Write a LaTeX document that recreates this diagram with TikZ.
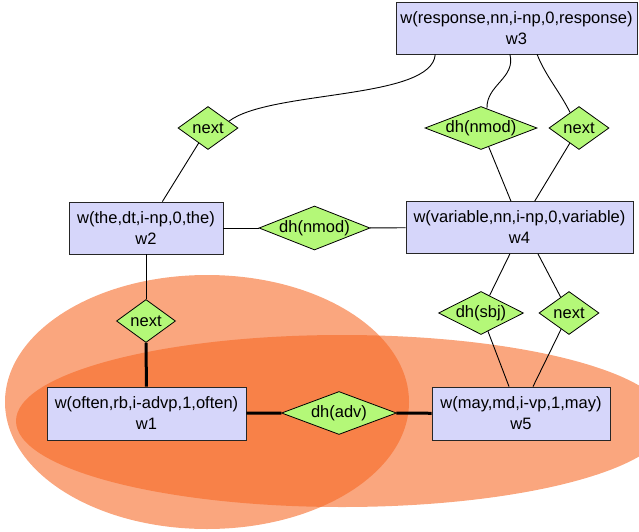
\documentclass[tikz,border=0pt]{standalone}
\usepackage{fontspec}
\setmainfont{Liberation Sans}
\usetikzlibrary{shapes.geometric}

\definecolor{wordfill}{RGB}{214,214,250}
\definecolor{relfill}{RGB}{180,248,120}
\definecolor{groupfill}{RGB}{246,103,35}

% diamond labels take no width, so the diamond size comes from the style
\newcommand{\reltext}[1]{\makebox[0pt]{#1}}

\begin{document}
\begin{tikzpicture}[x=1pt,y=-1pt,
  every node/.style={font=\fontsize{16.5}{21}\selectfont},
  word/.style={draw=black!85, line width=0.8pt, fill=wordfill, align=center,
               inner xsep=2pt, inner ysep=0pt, minimum height=52pt},
  rel/.style={diamond, draw=black, line width=0.8pt, fill=relfill,
              inner sep=0pt, minimum height=43pt},
  link/.style={line width=0.9pt},
  strong/.style={line width=3pt},
  group/.style={fill=groupfill, fill opacity=0.59}]

\path[use as bounding box, clip] (0,0) rectangle (639,532);

% groupings
\fill[group] (207,402) ellipse [x radius=202pt, y radius=127pt];
\fill[group] (342,421) ellipse [x radius=326pt, y radius=86pt];

% word nodes
\node[word, minimum width=241pt] (w3) at (516.5,28) {w(response,nn,i-np,0,response)\\w3};
\node[word, minimum width=154pt] (w2) at (146,228) {w(the,dt,i-np,0,the)\\w2};
\node[word, minimum width=227pt] (w4) at (519.5,227.5) {w(variable,nn,i-np,0,variable)\\w4};
\node[word, minimum width=199pt, minimum height=53pt] (w1) at (146.5,413.5) {w(often,rb,i-advp,1,often)\\w1};
\node[word, minimum width=178pt, minimum height=53pt] (w5) at (521,413.5) {w(may,md,i-vp,1,may)\\w5};

% relation nodes
\node[rel, minimum width=60pt]  (n1) at (208,128)   {\reltext{next}};
\node[rel, minimum width=112pt] (d2) at (481,128)   {\reltext{dh(nmod)}};
\node[rel, minimum width=60pt]  (n2) at (579,128)   {\reltext{next}};
\node[rel, minimum width=111pt, minimum height=44pt] (d3) at (314.5,228) {\reltext{dh(nmod)}};
\node[rel, minimum width=59pt]  (n3) at (146,321)   {\reltext{next}};
\node[rel, minimum width=85pt]  (d4) at (481,313)   {\reltext{dh(sbj)}};
\node[rel, minimum width=60pt]  (n4) at (569,313)   {\reltext{next}};
\node[rel, minimum width=115pt] (d5) at (339,413)   {\reltext{dh(adv)}};

% connectors
\draw[link] (w3.-162) .. controls (432,100) and (270,90) .. (n1.18);
\draw[link] (n1) -- (w2);
\draw[link] (w3.-104) .. controls (516,78) and (486,85) .. (d2.73);
\draw[link] (w3.-52) .. controls (545,75) and (560,92) .. (n2.120);
\draw[link] (d2) -- (w4.108);
\draw[link] (n2) -- (w4.60);
\draw[link] (w2) -- (d3);
\draw[link] (d3) -- (w4);
\draw[link] (w2) -- (n3);
\draw[link] (d4) -- (w4.-110);
\draw[link] (n4) -- (w4.-55);
\draw[link] (d4) -- (w5.114);
\draw[link] (n4) -- (w5.66);
\draw[strong] (n3) -- (w1);
\draw[strong] (w1) -- (d5);
\draw[strong] (d5) -- (w5);

\end{tikzpicture}
\end{document}
